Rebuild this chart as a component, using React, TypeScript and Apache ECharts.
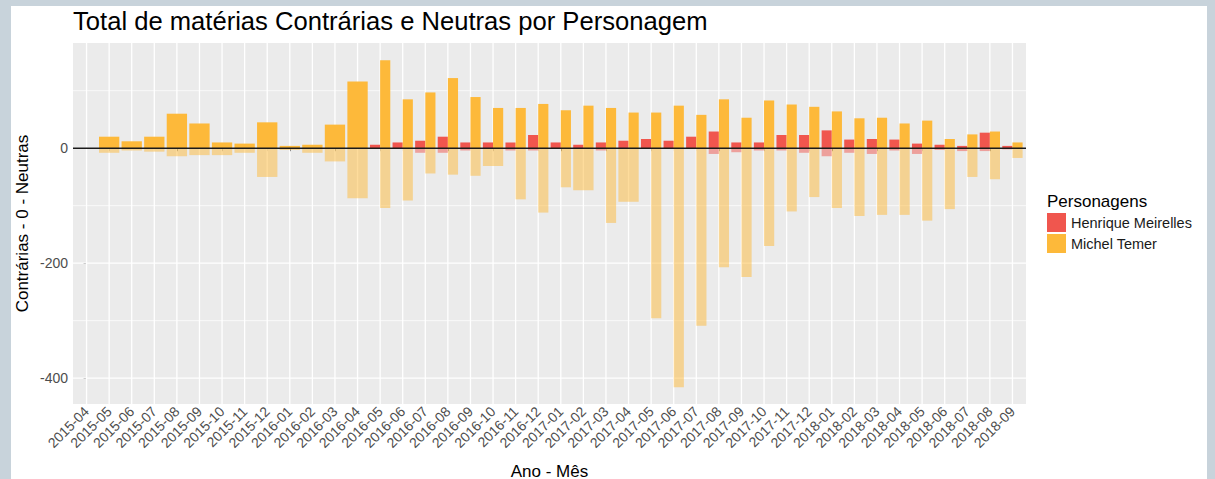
import React, { useEffect, useRef } from 'react';
import * as echarts from 'echarts';

const months = [
  '2015-04', '2015-05', '2015-06', '2015-07', '2015-08', '2015-09', '2015-10', '2015-11', '2015-12',
  '2016-01', '2016-02', '2016-03', '2016-04', '2016-05', '2016-06', '2016-07', '2016-08', '2016-09',
  '2016-10', '2016-11', '2016-12', '2017-01', '2017-02', '2017-03', '2017-04', '2017-05', '2017-06',
  '2017-07', '2017-08', '2017-09', '2017-10', '2017-11', '2017-12', '2018-01', '2018-02', '2018-03',
  '2018-04', '2018-05', '2018-06', '2018-07', '2018-08', '2018-09',
];

// Neutras (positive) and Contrárias (negative); null = no row for that month
const temerNeutras = [
  null, 20, 12, 20, 60, 43, 10, 8, 45, 4, 6, 41, 116, 153, 85, 97, 122, 89, 70, 70, 77,
  66, 74, 70, 62, 62, 74, 58, 85, 53, 83, 76, 72, 64, 52, 53, 43, 48, 16, 24, 29, 10,
];
const temerContrarias = [
  null, -8, -4, -6, -14, -12, -12, -8, -50, -3, -8, -23, -87, -104, -91, -44, -46, -48, -31, -89, -112,
  -68, -73, -130, -93, -296, -416, -309, -207, -224, -170, -110, -85, -104, -118, -116, -116, -126, -106, -50, -54, -17,
];
const meirellesNeutras = [
  null, null, null, null, null, null, null, null, null, null, null, null, null,
  6, 10, 13, 20, 10, 10, 10, 23, 10, 6, 10, 13, 16, 13, 20, 29, 10, 10, 23, 23, 31, 15, 16, 15, 8, 6, 4, 27, 4,
];
const meirellesContrarias = [
  null, null, null, null, null, null, null, null, null, null, null, null, null,
  0, 0, -8, -8, -4, null, -4, -4, 0, null, -4, null, 0, 0, 0, -10, -7, -4, -4, -8, -14, -8, -10, -4, -10, -3, -5, -5, -2,
];

const yLabelTicks = [-400, -200, 0];
const yMajorGrid = [-400, -200, 0];
const yMinorGrid = [-300, -100, 100];

const RED = '#F0564E';
const ORANGE = '#FDB93A';
const FONT = '"Liberation Sans", Arial, Helvetica, sans-serif';

function dodge(hm: (number | null)[], tm: (number | null)[]) {
  const hmItems: number[][] = [];
  const tmItems: number[][] = [];
  hm.forEach((_, i) => {
    const hasH = hm[i] != null;
    const hasT = tm[i] != null;
    const n = (hasH ? 1 : 0) + (hasT ? 1 : 0);
    if (hasH) hmItems.push([i, hm[i] as number, 0, n]);
    if (hasT) tmItems.push([i, tm[i] as number, hasH ? 1 : 0, n]);
  });
  return { hmItems, tmItems };
}

function barSeries(name: string, color: string, alpha: number, items: number[][]) {
  return {
    type: 'custom',
    name,
    data: items,
    encode: { x: 0, y: 1 },
    z: 2,
    silent: true,
    itemStyle: { color },
    renderItem: (params: any, api: any) => {
      const idx = api.value(0);
      const v = api.value(1);
      const slot = api.value(2);
      const n = api.value(3);
      const base = api.coord([idx, 0]);
      const top = api.coord([idx, v]);
      const band = api.size([1, 0])[0] * 0.9;
      const w = band / n;
      const x = base[0] - band / 2 + slot * w;
      return {
        type: 'rect',
        shape: { x, y: Math.min(base[1], top[1]), width: w, height: Math.abs(top[1] - base[1]) },
        style: { fill: color, opacity: alpha },
      };
    },
  };
}

function hLines(values: number[], stroke: string, width: number, z: number) {
  return {
    type: 'custom',
    data: values.map((v) => [0, v]),
    encode: { x: 0, y: 1 },
    z,
    silent: true,
    renderItem: (params: any, api: any) => {
      const cs = params.coordSys;
      const y = api.coord([0, api.value(1)])[1];
      return {
        type: 'line',
        shape: { x1: cs.x, y1: y, x2: cs.x + cs.width, y2: y },
        style: { stroke, lineWidth: width },
      };
    },
  };
}

function vLines(count: number, stroke: string, width: number, z: number) {
  return {
    type: 'custom',
    data: Array.from({ length: count }, (_, i) => [i, 0]),
    encode: { x: 0, y: 1 },
    z,
    silent: true,
    renderItem: (params: any, api: any) => {
      const cs = params.coordSys;
      const x = api.coord([api.value(0), 0])[0];
      return {
        type: 'line',
        shape: { x1: x, y1: cs.y, x2: x, y2: cs.y + cs.height },
        style: { stroke, lineWidth: width },
      };
    },
  };
}

export default function App() {
  const ref = useRef<HTMLDivElement>(null);
  useEffect(() => {
    const chart = echarts.init(ref.current!, null, { renderer: 'svg' });
    const pos = dodge(meirellesNeutras, temerNeutras);
    const neg = dodge(meirellesContrarias, temerContrarias);
    const idxs = months.map((_, i) => i);
    chart.setOption({
      animation: false,
      textStyle: { fontFamily: FONT },
      grid: {
        left: 73, top: 43, right: 189, bottom: 75,
        show: true, backgroundColor: '#EBEBEB', borderWidth: 0,
      },
      xAxis: {
        type: 'value',
        min: -0.6,
        max: months.length - 1 + 0.6,
        axisLine: { show: false },
        splitLine: { show: false },
        axisTick: { show: true, customValues: idxs, length: 3, lineStyle: { color: '#333333', width: 1 } },
        axisLabel: {
          customValues: idxs,
          rotate: 45,
          margin: 5,
          fontSize: 14,
          color: '#4D4D4D',
          fontFamily: FONT,
          formatter: (v: number) => months[Math.round(v)] ?? '',
        },
      },
      yAxis: {
        type: 'value',
        min: -445,
        max: 183,
        axisLine: { show: false },
        splitLine: { show: false },
        axisTick: { show: true, customValues: yLabelTicks, length: 3, lineStyle: { color: '#333333', width: 1 } },
        axisLabel: {
          customValues: yLabelTicks,
          margin: 5,
          fontSize: 14,
          color: '#4D4D4D',
          fontFamily: FONT,
        },
      },
      legend: {
        orient: 'vertical',
        left: 1047,
        top: 213,
        itemWidth: 19,
        itemHeight: 19,
        itemGap: 2,
        padding: 0,
        selectedMode: false,
        textStyle: { fontSize: 14.5, color: '#1A1A1A', fontFamily: FONT },
        data: [
          { name: 'Henrique Meirelles', icon: 'rect', itemStyle: { color: RED } },
          { name: 'Michel Temer', icon: 'rect', itemStyle: { color: ORANGE } },
        ],
      },
      graphic: [
        {
          type: 'text', left: 73, top: 8,
          style: { text: 'Total de matérias Contrárias e Neutras por Personagem', fontSize: 25.6, fill: '#000', fontFamily: FONT },
        },
        {
          type: 'text', x: 1047, y: 201,
          style: { text: 'Personagens', fontSize: 17, fill: '#000', fontFamily: FONT, verticalAlign: 'middle' },
        },
        {
          type: 'text', x: 549.5, y: 471,
          style: { text: 'Ano - Mês', fontSize: 17, fill: '#000', fontFamily: FONT, align: 'center', verticalAlign: 'middle' },
        },
        {
          type: 'text', x: 22, y: 223.5, rotation: Math.PI / 2,
          style: { text: 'Contrárias - 0 - Neutras', fontSize: 17, fill: '#000', fontFamily: FONT, align: 'center', verticalAlign: 'middle' },
        },
      ],
      series: [
        hLines(yMinorGrid, '#FFFFFF', 0.7, 1),
        hLines(yMajorGrid, '#FFFFFF', 1.3, 1),
        vLines(months.length, '#FFFFFF', 1.3, 1),
        barSeries('Henrique Meirelles', RED, 1, pos.hmItems),
        barSeries('Michel Temer', ORANGE, 1, pos.tmItems),
        barSeries('Henrique Meirelles', RED, 0.5, neg.hmItems),
        barSeries('Michel Temer', ORANGE, 0.5, neg.tmItems),
        hLines([0], '#1A1A1A', 1.4, 5),
      ],
    });
    return () => chart.dispose();
  }, []);
  return (
    <div style={{ position: 'fixed', left: 0, top: 0, width: 1215, height: 479, background: '#C8D3DB', overflow: 'hidden' }}>
      <div style={{ position: 'absolute', left: 11, top: 6, width: 1196, height: 473, background: '#FFFFFF' }} />
      <div ref={ref} style={{ position: 'absolute', left: 0, top: 0, width: 1215, height: 479 }} />
    </div>
  );
}
